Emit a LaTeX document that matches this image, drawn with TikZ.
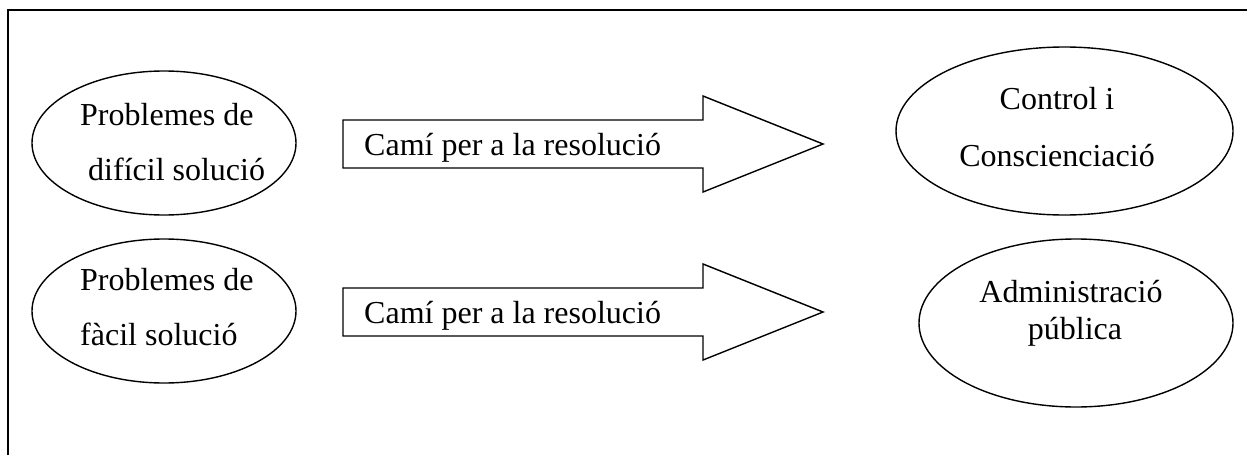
\documentclass[tikz,border=0pt]{standalone}
\usepackage{fontspec}
\setmainfont{Liberation Serif}
\usetikzlibrary{shapes.geometric}
\begin{document}
\begin{tikzpicture}[x=1pt,y=-1pt,
  oval/.style={draw,line width=1.4pt,ellipse,inner sep=0pt},
  txt/.style={inner sep=0pt,anchor=base west,font=\fontsize{32}{38}\selectfont},
  ctxt/.style={inner sep=0pt,anchor=base,font=\fontsize{32}{38}\selectfont},
  blockarrow/.style={draw,line width=1.4pt,line join=miter}]
\useasboundingbox (0,0) rectangle (1247,455);
% frame (top and left edges)
\coordinate (fa) at (8,455);
\coordinate (fb) at (8,10);
\coordinate (fc) at (1247,10);
\draw[line width=2pt] (fa) -- (fb) -- (fc);
% left ellipses
\node[oval,minimum width=264pt,minimum height=144pt] (e1) at (164,143) {};
\node[oval,minimum width=264pt,minimum height=144pt] (e2) at (164,311) {};
\node[txt] (t1a) at (80,125) {Problemes de};
\node[txt] (t1b) at (80,180) {\ difícil solució};
\node[txt] (t2a) at (80,290) {Problemes de};
\node[txt] (t2b) at (80,345) {fàcil solució};
% block arrows
\draw[blockarrow] (343,120) -- (703,120) -- (703,96) -- (823,144) -- (703,192) -- (703,168) -- (343,168) -- cycle;
\draw[blockarrow] (343,288) -- (703,288) -- (703,264) -- (823,312) -- (703,360) -- (703,336) -- (343,336) -- cycle;
\node[txt] (a1) at (364,155) {Camí per a la resolució};
\node[txt] (a2) at (364,323) {Camí per a la resolució};
% right ellipses
\node[oval,minimum width=337pt,minimum height=168pt] (e3) at (1064.5,131) {};
\node[oval,minimum width=314pt,minimum height=168pt] (e4) at (1076,323) {};
\node[ctxt] (t3a) at (1057,109) {Control i};
\node[ctxt] (t3b) at (1057,166) {Conscienciació};
\node[ctxt] (t4a) at (1071,302) {Administració};
\node[ctxt] (t4b) at (1075,339) {pública};
\end{tikzpicture}
\end{document}
